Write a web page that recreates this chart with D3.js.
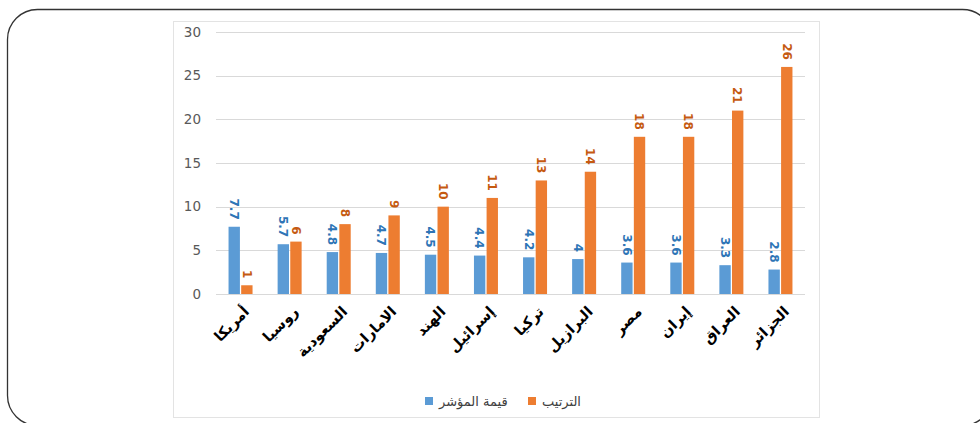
<!DOCTYPE html>
<html>
<head>
<meta charset="utf-8">
<script src="https://cdn.jsdelivr.net/npm/d3@7"></script>
<style>
  body { margin: 0; background: #fff; }
  text { font-family: "DejaVu Sans", sans-serif; }
</style>
</head>
<body>
<div id="chart"></div>
<script>
var countries = ["أمريكا", "روسيا", "السعودية", "الامارات", "الهند", "إسرائيل", "تركيا", "البرازيل", "مصر", "إيران", "العراق", "الجزائر"];
var indexValues = [7.7, 5.7, 4.8, 4.7, 4.5, 4.4, 4.2, 4, 3.6, 3.6, 3.3, 2.8];
var ranks = [1, 6, 8, 9, 10, 11, 13, 14, 18, 18, 21, 26];
var seriesNames = ["قيمة المؤشر", "الترتيب"];
var yTicks = [0, 5, 10, 15, 20, 25, 30];

var width = 980, height = 423;
var barColors = ["#5B9BD5", "#ED7D31"];
var labelColors = ["#2E75B6", "#C55A11"];

var svg = d3.select("#chart").append("svg")
  .attr("width", width)
  .attr("height", height);

// outer rounded frame
svg.append("rect")
  .attr("x", 7.5).attr("y", 9.5)
  .attr("width", 985).attr("height", 416)
  .attr("rx", 30).attr("ry", 30)
  .attr("fill", "none")
  .attr("stroke", "#333")
  .attr("stroke-width", 1.3);

// chart area border
svg.append("rect")
  .attr("x", 173.5).attr("y", 21.5)
  .attr("width", 646).attr("height", 396)
  .attr("fill", "none")
  .attr("stroke", "#e3e3e3");

var x = d3.scaleBand()
  .domain(countries)
  .range([216, 805]);

var x1 = d3.scaleBand()
  .domain([0, 1])
  .range([-12, 12])
  .paddingInner(0.1);

var y = d3.scaleLinear()
  .domain([0, 30])
  .range([294, 32]);

// gridlines
svg.append("g")
  .selectAll("line")
  .data(yTicks)
  .enter().append("line")
    .attr("x1", 216).attr("x2", 805)
    .attr("y1", function(d) { return Math.round(y(d)) + 0.5; })
    .attr("y2", function(d) { return Math.round(y(d)) + 0.5; })
    .attr("stroke", "#d9d9d9")
    .attr("stroke-width", 1);

// y axis labels
var yAxis = d3.axisLeft(y).tickValues(yTicks).tickSize(0).tickPadding(0);
var yg = svg.append("g")
  .attr("transform", "translate(201,0)")
  .call(yAxis);
yg.select(".domain").remove();
yg.selectAll("text")
  .attr("fill", "#595959")
  .style("font-size", "13.5px")
  .style("font-family", "DejaVu Sans, sans-serif");

var rows = countries.map(function(c, i) {
  return { country: c, values: [indexValues[i], ranks[i]] };
});

var group = svg.selectAll(".grp")
  .data(rows)
  .enter().append("g")
    .attr("class", "grp")
    .attr("transform", function(d) { return "translate(" + (x(d.country) + x.bandwidth() / 2) + ",0)"; });

group.selectAll("rect")
  .data(function(d) { return d.values; })
  .enter().append("rect")
    .attr("x", function(d, i) { return x1(i); })
    .attr("width", x1.bandwidth())
    .attr("y", function(d) { return y(d); })
    .attr("height", function(d) { return y(0) - y(d); })
    .attr("fill", function(d, i) { return barColors[i]; });

// data labels, rotated
group.selectAll("text.lbl")
  .data(function(d) { return d.values; })
  .enter().append("text")
    .attr("class", "lbl")
    .attr("transform", function(d, i) {
      return "translate(" + (x1(i) + x1.bandwidth() / 2) + "," + (y(d) - 7) + ") rotate(90)";
    })
    .attr("text-anchor", "end")
    .attr("dy", "0.35em")
    .attr("fill", function(d, i) { return labelColors[i]; })
    .style("font-size", "12px")
    .style("font-weight", "bold")
    .text(function(d) { return d; });

// category labels
svg.append("g")
  .selectAll("text")
  .data(countries)
  .enter().append("text")
    .attr("transform", function(d) {
      return "translate(" + (x(d) + x.bandwidth() / 2 + 6) + ",309) rotate(-45)";
    })
    .attr("text-anchor", "end")
    .attr("dy", "0.35em")
    .attr("fill", "#000")
    .style("font-size", "14.5px")
    .style("font-weight", "bold")
    .text(function(d) { return d; });

// legend
var legendItems = [
  { name: seriesNames[0], color: barColors[0], x: 425 },
  { name: seriesNames[1], color: barColors[1], x: 528 }
];
var lg = svg.append("g").selectAll("g")
  .data(legendItems)
  .enter().append("g")
    .attr("transform", function(d) { return "translate(" + d.x + ",397)"; });
lg.append("rect")
  .attr("width", 8).attr("height", 8)
  .attr("fill", function(d) { return d.color; });
lg.append("text")
  .attr("x", 14).attr("y", 4)
  .attr("dy", "0.35em")
  .attr("text-anchor", "start")
  .attr("fill", "#404040")
  .style("font-size", "13px")
  .style("direction", "ltr")
  .text(function(d) { return d.name; });
</script>
</body>
</html>
